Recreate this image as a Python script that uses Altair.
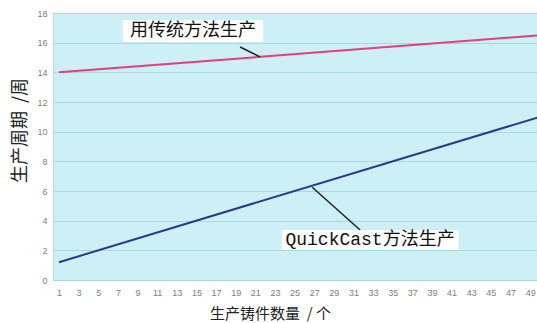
import altair as alt
import pandas as pd

# Data
x_ends = [1, 50]
traditional = [14.0, 16.5]
quickcast = [1.2, 11.0]
series_names = ["用传统方法生产", "QuickCast方法生产"]
x_ticks = list(range(1, 50, 2))
y_ticks = list(range(0, 19, 2))

# annotation label positions (data units)
label_text = ["用传统方法生产", "QuickCast方法生产"]
label_x = [14.66, 32.69]
label_y = [16.79, 2.70]
box_x1 = [7.5, 23.7]
box_x2 = [21.8, 41.7]
box_y1 = [17.53, 3.37]
box_y2 = [16.05, 2.02]
lead_x1 = [19.45, 26.8]
lead_x2 = [21.48, 31.68]
lead_y1 = [15.71, 6.25]
lead_y2 = [15.04, 3.37]

lines = pd.DataFrame({
    "x": x_ends * 2,
    "y": traditional + quickcast,
    "s": [series_names[0]] * 2 + [series_names[1]] * 2,
})
ann = pd.DataFrame({
    "t": label_text, "x": label_x, "y": label_y,
    "bx1": box_x1, "bx2": box_x2, "by1": box_y1, "by2": box_y2,
    "lx1": lead_x1, "lx2": lead_x2, "ly1": lead_y1, "ly2": lead_y2,
})

xs = alt.Scale(domain=[0.39, 49.7], nice=False, zero=False)
ys = alt.Scale(domain=[0, 18], nice=False)

label_font = "Liberation Sans"
cjk = "Noto Sans CJK SC"

x_axis = alt.Axis(values=x_ticks, grid=False, ticks=False, domain=False,
                  labelFontSize=9, labelColor="#808080", labelPadding=8,
                  labelFont=label_font, labelFlush=False, labelOverlap=False,
                  title="生产铸件数量\u00a0\u00a0/ 个", titleFont=cjk, titleFontSize=15,
                  titleFontWeight="normal", titleColor="#222222",
                  titleX=217, titleY=33, titleAlign="center", titleBaseline="middle")
y_axis = alt.Axis(values=y_ticks, grid=True, gridColor="#abd8df", gridWidth=1,
                  ticks=False, domain=False, labelOverlap=False, labelFlush=False,
                  labelFontSize=9, labelColor="#808080", labelPadding=6,
                  labelFont=label_font,
                  title="生产周期\u00a0\u00a0/周", titleFont=cjk, titleFontSize=18,
                  titleFontWeight="normal", titleColor="#222222",
                  titleX=-33, titleY=117, titleAngle=-90,
                  titleAlign="center", titleBaseline="middle")

base_lines = alt.Chart(lines).mark_line(strokeWidth=2, clip=True).encode(
    x=alt.X("x:Q", scale=xs, axis=x_axis),
    y=alt.Y("y:Q", scale=ys, axis=y_axis),
    color=alt.Color("s:N", scale=alt.Scale(domain=series_names,
                                           range=["#e33f7c", "#283a8a"]),
                    legend=None),
)

leaders = alt.Chart(ann).mark_rule(color="#222222", strokeWidth=1.5).encode(
    x=alt.X("lx1:Q", scale=xs, axis=x_axis), x2="lx2:Q",
    y=alt.Y("ly1:Q", scale=ys, axis=y_axis), y2="ly2:Q",
)

boxes = alt.Chart(ann).mark_rect(color="white").encode(
    x=alt.X("bx1:Q", scale=xs, axis=x_axis), x2="bx2:Q",
    y=alt.Y("by1:Q", scale=ys, axis=y_axis), y2="by2:Q",
)

texts = alt.Chart(ann).mark_text(
    font="Liberation Mono, Noto Sans CJK SC", fontSize=18, color="#111111",
    align="center", baseline="middle",
).encode(
    x=alt.X("x:Q", scale=xs, axis=x_axis), y=alt.Y("y:Q", scale=ys, axis=y_axis),
    text="t:N",
)

chart = alt.layer(base_lines, leaders, boxes, texts).properties(
    width=484, height=267,
    padding={"left": 53, "top": 13, "right": 0, "bottom": 43},
    autosize=alt.AutoSizeParams(type="none"),
    background="white",
).configure_view(
    fill="#ccf0f5", stroke="#b5dde3", strokeWidth=1
).configure_axis(labelOverlap=False)

chart.save("out.html", embed_options={"renderer": "svg", "actions": False})
